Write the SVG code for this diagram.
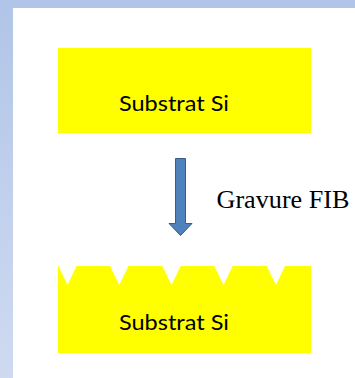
<svg xmlns="http://www.w3.org/2000/svg" width="355" height="378" viewBox="0 0 355 378">
<defs>
<linearGradient id="bg" x1="0" y1="0" x2="0" y2="1">
<stop offset="0" stop-color="#B1C5E8"/>
<stop offset="1" stop-color="#CFDAF1"/>
</linearGradient>
</defs>
<style>
.sub{fill:#FFFF00;}
.lbl{font-family:Lato,"Noto Sans",sans-serif;font-size:22px;fill:#000;}
.ser{font-family:"Liberation Serif","Times New Roman",serif;font-size:26px;fill:#000;}
.arr{fill:#4F81BD;stroke:#385D8A;stroke-width:1;}
</style>
<rect x="0" y="0" width="355" height="378" fill="url(#bg)"/>
<rect x="13" y="8" width="342" height="370" fill="#FFFFFF"/>
<g id="substrat-top">
<rect class="sub" x="58" y="48" width="253" height="85"/>
<text class="lbl" x="119" y="110.5" textLength="110" lengthAdjust="spacingAndGlyphs">Substrat Si</text>
</g>
<g id="substrat-bottom">
<path class="sub" d="M58,266 L311,266 L311,353 L58,353 Z"/>
<g fill="#FFFFFF">
<polygon points="58.5,266 76.5,266 67.5,285"/>
<polygon points="110,266 128.5,266 119.2,285"/>
<polygon points="162.3,266 180.7,266 171.5,285"/>
<polygon points="214.3,266 232.7,266 223.5,285"/>
<polygon points="266.7,266 285,266 276,285"/>
</g>
<text class="lbl" x="119" y="330" textLength="110" lengthAdjust="spacingAndGlyphs">Substrat Si</text>
</g>
<g id="connectors">
<path class="arr" d="M175.5,158.5 L185.5,158.5 L185.5,223.5 L192,223.5 L180.5,235.5 L169,223.5 L175.5,223.5 Z"/>
</g>
<g id="label-gravure">
<text class="ser" x="216.5" y="207.7" textLength="133" lengthAdjust="spacingAndGlyphs">Gravure FIB</text>
</g>
</svg>
